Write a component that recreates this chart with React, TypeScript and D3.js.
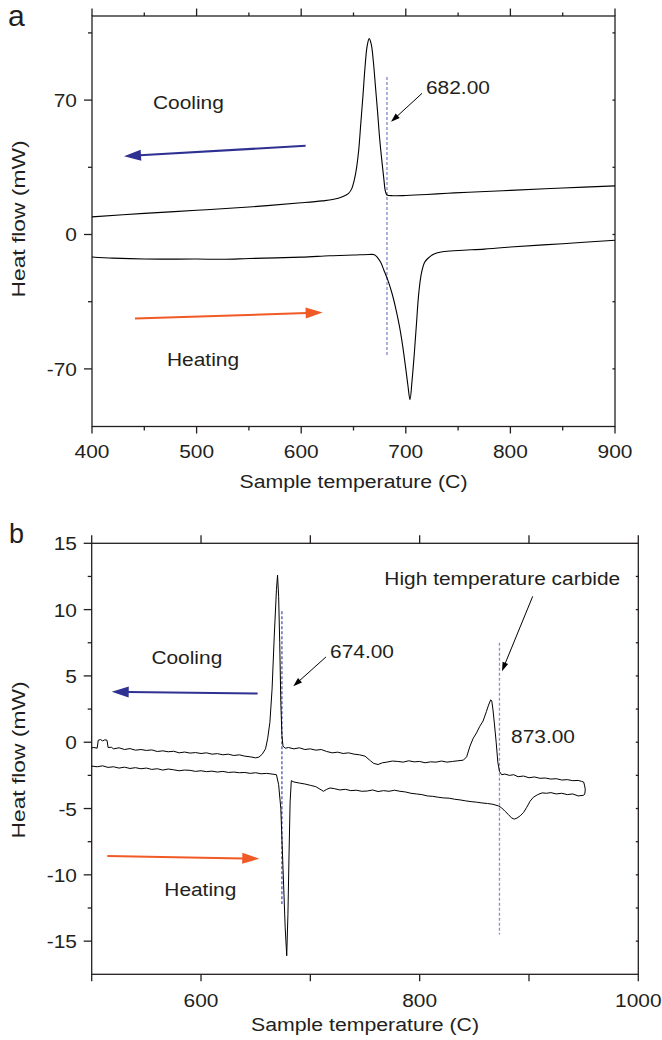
import React from "react";
import * as d3 from "d3";

// ---------- Panel a data ----------
const aCoolT = [400, 450, 500, 550, 600, 620, 630, 640, 645, 648, 651, 653, 655, 657, 659, 661, 663, 665, 667, 669, 671, 673, 675, 677, 679, 680.5, 682, 688, 700, 720, 740, 760, 800, 850, 900];
const aCoolV = [9.2, 11.0, 12.6, 14.3, 16.5, 17.5, 18.2, 19.8, 21.3, 23.5, 29, 35, 44, 58, 72, 87, 98, 102, 99, 90, 77, 64, 50, 39, 29, 22.5, 20.6, 20.2, 20.3, 20.8, 21.5, 22.0, 23.0, 24.2, 25.3];
const aHeatT = [400, 420, 450, 500, 527, 550, 600, 627, 650, 665, 670, 673, 676, 679, 683, 687, 691, 694, 697, 700, 702, 704, 706, 708, 710, 712.5, 715, 718, 721, 727, 735, 750, 775, 794, 800, 850, 900];
const aHeatV = [-11.7, -12.3, -12.8, -12.8, -12.9, -12.5, -11.8, -11.1, -10.7, -10.4, -10.5, -12, -14.5, -18.5, -24, -31, -40, -48, -58, -70, -78.5, -86, -76, -63, -48, -30, -20, -14.5, -12.5, -10.2, -9, -8.3, -7.6, -6.8, -6.5, -4.8, -3];
const aXMajor = [400, 500, 600, 700, 800, 900];
const aXMinor = [450, 550, 650, 750, 850];
const aYMajor = [-70, 0, 70];
const aYMinor = [-35, 35, 105];
const aYRight = [-70, -35, 0, 35, 70, 105];

// ---------- Panel b data ----------
const bCoolT = [500, 502, 505, 506, 508, 510, 512, 514, 515, 518, 520, 525, 530, 535, 540, 545, 550, 555, 560, 565, 570, 575, 580, 585, 590, 595, 600, 605, 610, 615, 620, 625, 630, 635, 640, 645, 650, 653, 656, 659, 661, 663, 665, 667, 669, 670, 671, 672, 673, 674, 675, 677, 680, 685, 690, 695, 700, 705, 710, 715, 720, 725, 730, 735, 740, 745, 750, 755, 758, 762, 766, 770, 775, 780, 785, 790, 795, 800, 805, 810, 815, 820, 825, 830, 835, 840, 843, 846, 849, 852, 855, 858, 861, 863, 865, 866, 867, 868.5, 870, 871.5, 873, 875, 878, 882, 886, 890, 895, 900, 905, 910, 915, 920, 925, 930, 935, 940, 945, 948, 950, 951, 951.5, 951, 950];
const bCoolV = [-0.42, -0.4, -0.45, 0.15, 0.2, 0.1, 0.18, 0.15, -0.4, -0.38, -0.5, -0.42, -0.55, -0.48, -0.6, -0.55, -0.62, -0.58, -0.7, -0.65, -0.72, -0.68, -0.8, -0.74, -0.82, -0.78, -0.85, -0.8, -0.9, -0.86, -0.95, -0.9, -1.0, -0.95, -1.05, -1.1, -1.18, -1.12, -0.9, -0.5, 0.3, 1.5, 4, 8, 11.5, 12.6, 11, 7.5, 3, 0.5, -0.3, -0.45, -0.4, -0.5, -0.42, -0.55, -0.5, -0.6, -0.55, -0.7, -0.8, -0.75, -0.85, -0.8, -0.9, -0.95, -1.05, -1.4, -1.6, -1.68, -1.55, -1.5, -1.42, -1.45, -1.5, -1.4, -1.48, -1.45, -1.55, -1.48, -1.5, -1.42, -1.5, -1.45, -1.4, -1.35, -1.1, -0.3, 0.3, 0.7, 1.2, 1.6, 2.3, 2.8, 3.2, 3.1, 2.5, 1.3, 0, -1.5, -2.2, -2.45, -2.4, -2.5, -2.45, -2.6, -2.55, -2.68, -2.62, -2.72, -2.7, -2.78, -2.75, -2.85, -2.82, -2.9, -2.88, -2.95, -3.0, -3.3, -3.6, -3.9, -4.0];
const bHeatT = [500, 505, 510, 515, 520, 525, 530, 535, 540, 545, 550, 555, 560, 565, 570, 575, 580, 585, 590, 595, 600, 605, 610, 615, 620, 625, 630, 635, 640, 645, 650, 655, 660, 665, 669, 671, 673, 675, 677, 678.4, 679.5, 680.5, 681.5, 682.6, 685, 690, 695, 700, 705, 710, 712, 715, 718, 722, 727, 732, 737, 742, 747, 752, 757, 762, 767, 772, 777, 782, 787, 792, 797, 802, 807, 812, 817, 822, 827, 832, 837, 842, 847, 852, 857, 862, 867, 872, 875, 878, 881, 884, 886.5, 889, 892, 895, 898, 901, 904, 908, 912, 916, 920, 925, 930, 935, 940, 945, 950];
const bHeatV = [-1.8, -1.85, -1.78, -1.9, -1.85, -1.95, -1.88, -1.98, -1.92, -2.0, -1.95, -2.05, -2.0, -2.1, -2.02, -2.08, -2.15, -2.1, -2.12, -2.2, -2.15, -2.22, -2.18, -2.25, -2.2, -2.28, -2.25, -2.3, -2.28, -2.35, -2.3, -2.38, -2.35, -2.4, -2.45, -3.2, -5, -9.5, -14, -16.1, -13, -8.5, -4.5, -2.9, -3.0, -3.08, -3.15, -3.25, -3.35, -3.6, -3.7, -3.55, -3.45, -3.5, -3.6, -3.55, -3.65, -3.62, -3.7, -3.68, -3.6, -3.72, -3.65, -3.7, -3.62, -3.7, -3.75, -3.85, -3.9, -3.95, -4.05, -4.08, -4.15, -4.2, -4.22, -4.3, -4.35, -4.42, -4.48, -4.52, -4.58, -4.62, -4.68, -4.8, -4.95, -5.2, -5.44, -5.7, -5.8, -5.72, -5.55, -5.3, -4.9, -4.45, -4.15, -3.95, -3.82, -3.85, -3.8, -3.9, -3.85, -3.95, -3.9, -4.05, -4.0];
const bXLabeled = [600, 800, 1000];
const bXTicks = [500, 600, 700, 800, 900, 1000];
const bYMajor = [-15, -10, -5, 0, 5, 10, 15];
const bYMinor = [-12.5, -7.5, -2.5, 2.5, 7.5, 12.5];
const bYRight = [-15, -12.5, -10, -7.5, -5, -2.5, 0, 2.5, 5, 7.5, 10, 12.5];

// annotation anchors (data units)
const aDash = { t: 682, v0: 82, v1: -63 };
const aNote = { label: "682.00", t: 719.3, v: 73, from: [715.5, 73.5], to: [685.9, 58.7] };
const aCoolArrow = { from: [604.2, 46.2], to: [430.6, 40.8] };
const aHeatArrow = { from: [441.1, -43.8], to: [620.5, -40.6] };
const aCoolText = [458.3, 65.3];
const aHeatText = [471.7, -68.6];

const bDash1 = { t: 674, v0: 9.87, v1: -12.2 };
const bDash2 = { t: 873, v0: 7.5, v1: -14.5 };
const bNote1 = { label: "674.00", t: 718, v: 6.36, from: [714.3, 6.43], to: [684.4, 4.22] };
const bNote2 = { label: "High temperature carbide", t: 767.7, v: 11.88, from: [903.4, 11.0], to: [875.3, 5.35] };
const bNote3 = { label: "873.00", t: 883.6, v: -0.05 };
const bCoolArrow = { from: [651.8, 3.67], to: [518.3, 3.8] };
const bHeatArrow = { from: [514.3, -8.58], to: [653.3, -8.78] };
const bCoolText = [554.6, 5.93];
const bHeatText = [566.4, -11.6];

const INK = "#231f20";
const FONT = "'Liberation Sans', Arial, Helvetica, sans-serif";
const BLUE = "#2e3192";
const ORANGE = "#f15a24";

function T({ x, y, size = 19, sx = 1.1, anchor = "start", rotate = 0, baseline, children }: any) {
  return (
    <text
      transform={`translate(${x},${y}) rotate(${rotate}) scale(${sx},1)`}
      fontSize={size}
      fontFamily={FONT}
      fill={INK}
      textAnchor={anchor}
      dominantBaseline={baseline}
    >
      {children}
    </text>
  );
}

function Arrow({ x1, y1, x2, y2, color, width, headLen, headW }: any) {
  const dx = x2 - x1, dy = y2 - y1;
  const L = Math.hypot(dx, dy);
  const ux = dx / L, uy = dy / L;
  const bx = x2 - ux * headLen, by = y2 - uy * headLen;
  const px = -uy * headW / 2, py = ux * headW / 2;
  return (
    <g>
      <line x1={x1} y1={y1} x2={bx + ux * 1} y2={by + uy * 1} stroke={color} strokeWidth={width} />
      <polygon points={`${x2},${y2} ${bx + px},${by + py} ${bx - px},${by - py}`} fill={color} />
    </g>
  );
}

function Frame({ x, y, xTicks, xMinor, xMinorLen, yMajor, yMinor, yRight, topTicks, topMinor, topMajorLen, topMinorLen }: any) {
  const [x0, x1] = x.range();
  const [y0, y1] = y.range(); // y0 bottom, y1 top
  const els: any[] = [];
  const sw = 1.3;
  els.push(<rect key="fr" x={x0} y={y1} width={x1 - x0} height={y0 - y1} fill="none" stroke={INK} strokeWidth={sw} />);
  xTicks.forEach((t: number, i: number) => {
    els.push(<line key={"xb" + i} x1={x(t)} x2={x(t)} y1={y0} y2={y0 + 7} stroke={INK} strokeWidth={sw} />);
  });
  (xMinor || []).forEach((t: number, i: number) => {
    els.push(<line key={"xbm" + i} x1={x(t)} x2={x(t)} y1={y0} y2={y0 + xMinorLen} stroke={INK} strokeWidth={sw} />);
  });
  topTicks.forEach((t: number, i: number) => {
    els.push(<line key={"xt" + i} x1={x(t)} x2={x(t)} y1={y1} y2={y1 - topMajorLen} stroke={INK} strokeWidth={sw} />);
  });
  (topMinor || []).forEach((t: number, i: number) => {
    els.push(<line key={"xtm" + i} x1={x(t)} x2={x(t)} y1={y1} y2={y1 - topMinorLen} stroke={INK} strokeWidth={sw} />);
  });
  yMajor.forEach((v: number, i: number) => {
    els.push(<line key={"yl" + i} x1={x0 - 8} x2={x0} y1={y(v)} y2={y(v)} stroke={INK} strokeWidth={sw} />);
  });
  yMinor.forEach((v: number, i: number) => {
    els.push(<line key={"ylm" + i} x1={x0 - 4} x2={x0} y1={y(v)} y2={y(v)} stroke={INK} strokeWidth={sw} />);
  });
  yRight.forEach((v: number, i: number) => {
    els.push(<line key={"yr" + i} x1={x1 - 2.5} x2={x1} y1={y(v)} y2={y(v)} stroke={INK} strokeWidth={sw} />);
  });
  return <g>{els}</g>;
}

export default function App() {
  const ax = d3.scaleLinear().domain([400, 900]).range([92, 615]);
  const ay = d3.scaleLinear().domain([-100, 113.8]).range([426.5, 16]);
  const bx = d3.scaleLinear().domain([500, 1000]).range([91.7, 638.3]);
  const by = d3.scaleLinear().domain([-17.5, 15]).range([974.3, 543.3]);

  const lineA = (T: number[], V: number[]) =>
    d3.line<number>().x((_, i) => ax(T[i])).y((_, i) => ay(V[i])).curve(d3.curveCatmullRom.alpha(0.5))(T) as string;
  const lineB = (T: number[], V: number[]) =>
    d3.line<number>().x((_, i) => bx(T[i])).y((_, i) => by(V[i]))(T) as string;

  return (
    <svg width={662} height={1040} style={{ position: "absolute", left: 0, top: 0, background: "#fff" }}>
      <rect x={0} y={0} width={662} height={1040} fill="#fff" />
      {/* ---------------- Panel a ---------------- */}
      <text x={8} y={26} fontSize={30} fontFamily={FONT} fill={INK}>a</text>
      <Frame x={ax} y={ay} xTicks={aXMajor} xMinor={aXMinor} xMinorLen={4} yMajor={aYMajor} yMinor={aYMinor} yRight={aYRight}
        topTicks={aXMajor} topMinor={aXMinor} topMajorLen={7.5} topMinorLen={3.5} />
      {aXMajor.map((t) => (
        <T key={"axl" + t} x={ax(t)} y={458} anchor="middle">{t}</T>
      ))}
      {aYMajor.map((v) => (
        <T key={"ayl" + v} x={77} y={ay(v) + 7} anchor="end">{v}</T>
      ))}
      <T x={(ax(400) + ax(900)) / 2} y={488} anchor="middle" sx={1.12}>Sample temperature (C)</T>
      <T x={25} y={219} anchor="middle" rotate={-90} sx={1.2}>Heat flow (mW)</T>

      <line x1={ax(aDash.t)} x2={ax(aDash.t)} y1={ay(aDash.v0)} y2={ay(aDash.v1)} stroke="#8085cc" strokeWidth={1.3} strokeDasharray="3,2" />
      <path d={lineA(aCoolT, aCoolV)} fill="none" stroke="#000" strokeWidth={1.1} />
      <path d={lineA(aHeatT, aHeatV)} fill="none" stroke="#000" strokeWidth={1.1} />

      <T x={ax(aNote.t)} y={ay(aNote.v)}>{aNote.label}</T>
      <Arrow x1={ax(aNote.from[0])} y1={ay(aNote.from[1])} x2={ax(aNote.to[0])} y2={ay(aNote.to[1])} color="#000" width={1} headLen={9} headW={6} />
      <T x={ax(aCoolText[0])} y={ay(aCoolText[1])}>Cooling</T>
      <T x={ax(aHeatText[0])} y={ay(aHeatText[1])}>Heating</T>
      <Arrow x1={ax(aCoolArrow.from[0])} y1={ay(aCoolArrow.from[1])} x2={ax(aCoolArrow.to[0])} y2={ay(aCoolArrow.to[1])} color={BLUE} width={2} headLen={17} headW={11} />
      <Arrow x1={ax(aHeatArrow.from[0])} y1={ay(aHeatArrow.from[1])} x2={ax(aHeatArrow.to[0])} y2={ay(aHeatArrow.to[1])} color={ORANGE} width={2} headLen={17} headW={11} />

      {/* ---------------- Panel b ---------------- */}
      <text x={9} y={543} fontSize={27} fontFamily={FONT} fill={INK}>b</text>
      <Frame x={bx} y={by} xTicks={bXTicks} yMajor={bYMajor} yMinor={bYMinor} yRight={bYRight}
        topTicks={bXTicks} topMajorLen={8} topMinorLen={0} />
      {bXLabeled.map((t) => (
        <T key={"bxl" + t} x={bx(t)} y={1007} anchor="middle">{t}</T>
      ))}
      {bYMajor.map((v) => (
        <T key={"byl" + v} x={77} y={by(v) + 7} anchor="end">{v}</T>
      ))}
      <T x={(bx(500) + bx(1000)) / 2} y={1031} anchor="middle" sx={1.12}>Sample temperature (C)</T>
      <T x={25} y={760} anchor="middle" rotate={-90} sx={1.2}>Heat flow (mW)</T>

      <line x1={bx(bDash1.t)} x2={bx(bDash1.t)} y1={by(bDash1.v0)} y2={by(bDash1.v1)} stroke="#4a55b8" strokeWidth={1.3} strokeDasharray="3,2" />
      <line x1={bx(bDash2.t)} x2={bx(bDash2.t)} y1={by(bDash2.v0)} y2={by(bDash2.v1)} stroke="#8a8ed6" strokeWidth={1.3} strokeDasharray="3,2" />
      <path d={lineB(bCoolT, bCoolV)} fill="none" stroke="#000" strokeWidth={1} />
      <path d={lineB(bHeatT, bHeatV)} fill="none" stroke="#000" strokeWidth={1} />

      <T x={bx(bNote1.t)} y={by(bNote1.v)}>{bNote1.label}</T>
      <Arrow x1={bx(bNote1.from[0])} y1={by(bNote1.from[1])} x2={bx(bNote1.to[0])} y2={by(bNote1.to[1])} color="#000" width={1} headLen={9} headW={6} />
      <T x={bx(bNote2.t)} y={by(bNote2.v)}>{bNote2.label}</T>
      <Arrow x1={bx(bNote2.from[0])} y1={by(bNote2.from[1])} x2={bx(bNote2.to[0])} y2={by(bNote2.to[1])} color="#000" width={1} headLen={9} headW={6} />
      <T x={bx(bNote3.t)} y={by(bNote3.v)}>{bNote3.label}</T>
      <T x={bx(bCoolText[0])} y={by(bCoolText[1])}>Cooling</T>
      <T x={bx(bHeatText[0])} y={by(bHeatText[1])}>Heating</T>
      <Arrow x1={bx(bCoolArrow.from[0])} y1={by(bCoolArrow.from[1])} x2={bx(bCoolArrow.to[0])} y2={by(bCoolArrow.to[1])} color={BLUE} width={2} headLen={17} headW={11} />
      <Arrow x1={bx(bHeatArrow.from[0])} y1={by(bHeatArrow.from[1])} x2={bx(bHeatArrow.to[0])} y2={by(bHeatArrow.to[1])} color={ORANGE} width={2} headLen={17} headW={11} />
    </svg>
  );
}
